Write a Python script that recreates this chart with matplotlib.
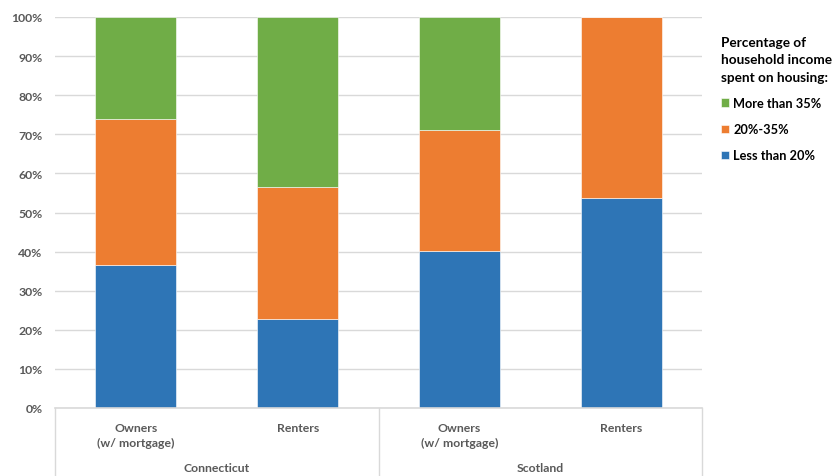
import matplotlib.pyplot as plt
import matplotlib.transforms as mtransforms
import numpy as np

plt.rcParams['font.family'] = ['Lato', 'DejaVu Sans']

groups = ['Connecticut', 'Scotland']
categories = ['Owners\n(w/ mortgage)', 'Renters', 'Owners\n(w/ mortgage)', 'Renters']
series = ['Less than 20%', '20%-35%', 'More than 35%']
less_20 = [36.6, 22.8, 40.2, 53.7]
mid_20_35 = [37.4, 33.7, 30.8, 46.3]
more_35 = [26.0, 43.5, 29.0, 0.0]
colors = ['#2E75B6', '#ED7D31', '#70AD47']

W, H = 838, 477
fig = plt.figure(figsize=(W / 100, H / 100), dpi=100)
ax = fig.add_axes([55 / W, (H - 409) / H, 647 / W, 391 / H])

ind = np.arange(len(categories))
width = 0.5
bottom = np.zeros(len(categories))
handles = []
for vals, col, lab in zip([less_20, mid_20_35, more_35], colors, series):
    b = ax.bar(ind, vals, width, bottom=bottom, color=col, edgecolor='white',
               linewidth=0.4, label=lab, zorder=2)
    handles.append(b)
    bottom += np.array(vals)

ax.set_xlim(-0.5, len(categories) - 0.5)
ax.set_ylim(0, 100)
ax.set_yticks(np.arange(0, 101, 10))
ax.set_yticklabels(['%d%%' % v for v in range(0, 101, 10)])
ax.yaxis.grid(True, color='#D9D9D9', linewidth=1, zorder=0)
ax.set_axisbelow(True)
for s in ['top', 'right', 'left']:
    ax.spines[s].set_visible(False)
ax.spines['bottom'].set_color('#D9D9D9')
ax.spines['bottom'].set_linewidth(1.2)
ax.tick_params(axis='y', length=0, pad=9, labelsize=8.8, labelcolor='#595959')
ax.tick_params(axis='x', length=0, pad=10, labelsize=8.8, labelcolor='#595959')
ax.set_xticks(ind)
ax.set_xticklabels(categories, fontweight='bold', linespacing=1.45)
for t in ax.get_yticklabels():
    t.set_fontweight('bold')

# group separators and group labels
trans = mtransforms.blended_transform_factory(ax.transData, ax.transAxes)
ybot = -(H - 409) / 391.0
for xs in [-0.5, 1.5, 3.5]:
    ax.plot([xs, xs], [0, ybot], color='#D9D9D9', linewidth=1,
            transform=trans, clip_on=False)
for i, g in enumerate(groups):
    ax.text(2 * i + 0.5, -(469 - 409) / 391.0, g, transform=trans,
            ha='center', va='center', fontsize=8.8, fontweight='bold',
            color='#595959')

leg = fig.legend(handles[::-1], series[::-1], loc='upper left',
                 bbox_to_anchor=(721 / W, 1 - 37 / H), frameon=False,
                 borderpad=0, borderaxespad=0,
                 title='Percentage of\nhousehold income\nspent on housing:',
                 alignment='left', handlelength=0.6, handleheight=0.6,
                 handletextpad=0.35, labelspacing=1.1, fontsize=9.2)
leg.get_title().set_fontweight('bold')
leg.get_title().set_fontsize(9.8)
leg.get_title().set_linespacing(1.55)
for t in leg.get_texts():
    t.set_fontweight('bold')

fig.savefig('out.png', dpi=100)
